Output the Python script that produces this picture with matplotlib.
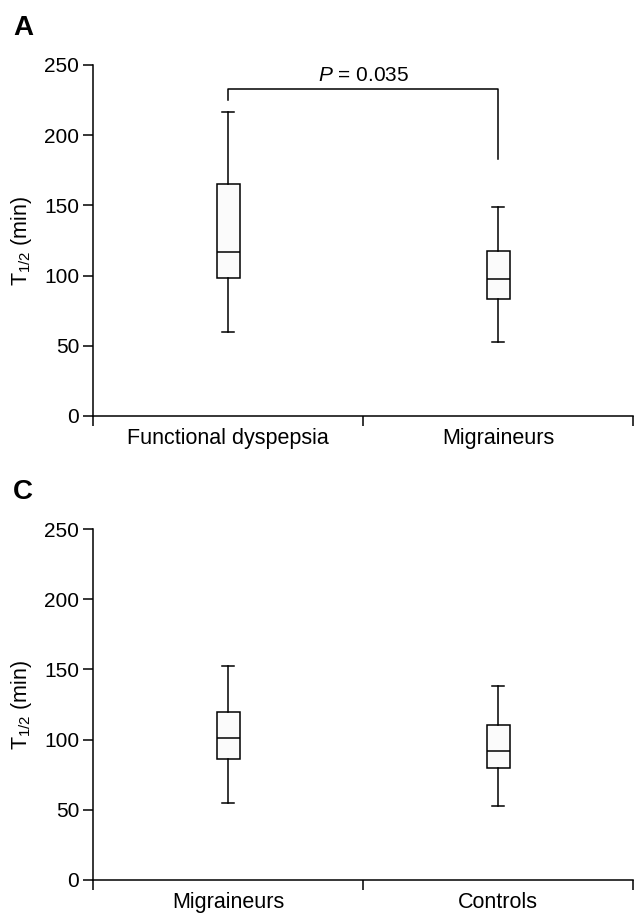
import matplotlib
matplotlib.use("Agg")
import matplotlib.pyplot as plt

plt.rcParams['font.family'] = ['Liberation Sans', 'DejaVu Sans']
plt.rcParams['mathtext.fontset'] = 'custom'
plt.rcParams['mathtext.rm'] = 'Liberation Sans'
plt.rcParams['mathtext.it'] = 'Liberation Sans:italic'

# panel A: functional dyspepsia vs migraineurs
groups_a = ["Functional dyspepsia", "Migraineurs"]
low_a = [59.6, 52.7]
q1_a = [98.5, 83.6]
med_a = [116.6, 97.8]
q3_a = [165.0, 117.5]
high_a = [216.5, 149.1]

# panel C: migraineurs vs controls
groups_c = ["Migraineurs", "Controls"]
low_c = [55.1, 52.9]
q1_c = [86.4, 79.8]
med_c = [101.4, 91.9]
q3_c = [119.4, 110.4]
high_c = [152.6, 138.4]

p_text = r"$\mathit{P}$ = 0.035"
bracket_y = 233
bracket_left_end = 225
bracket_right_end = 183

fig = plt.figure(figsize=(6.35, 9.14), dpi=100)
ax_a = fig.add_axes([0.1465, 0.5449, 0.8505, 0.384])
ax_c = fig.add_axes([0.1465, 0.0372, 0.8505, 0.384])


def draw_panel(ax, groups, low, q1, med, q3, high):
    stats = []
    for i in range(len(groups)):
        stats.append({"whislo": low[i], "q1": q1[i], "med": med[i],
                      "q3": q3[i], "whishi": high[i], "fliers": []})
    pos = [i + 0.5 for i in range(len(groups))]
    ax.bxp(stats, positions=pos, widths=0.085, patch_artist=True,
           showfliers=False,
           boxprops=dict(facecolor="#fbfbfb", edgecolor="black", linewidth=1.1),
           medianprops=dict(color="black", linewidth=1.1),
           whiskerprops=dict(color="black", linewidth=1.1),
           capprops=dict(color="black", linewidth=1.1),
           capwidths=0.045)
    ax.set_xlim(0, len(groups))
    ax.set_ylim(0, 250)
    ax.set_yticks([0, 50, 100, 150, 200, 250])
    ax.set_xticks(range(len(groups) + 1))
    ax.set_xticklabels([])
    ax.set_xticks(pos, minor=True)
    ax.set_xticklabels(groups, minor=True, fontsize=15.5)
    ax.tick_params(axis="x", which="major", length=7, width=1.1, direction="out")
    ax.tick_params(axis="x", which="minor", length=0, pad=9)
    ax.tick_params(axis="y", length=7, width=1.1, labelsize=15, pad=3)
    for s in ["top", "right"]:
        ax.spines[s].set_visible(False)
    for s in ["left", "bottom"]:
        ax.spines[s].set_linewidth(1.1)
    ax.set_ylabel(r"T$_{\mathregular{1/2}}$ (min)", fontsize=15.5)
    ax.yaxis.set_label_coords(-0.11, 0.5)


draw_panel(ax_a, groups_a, low_a, q1_a, med_a, q3_a, high_a)
draw_panel(ax_c, groups_c, low_c, q1_c, med_c, q3_c, high_c)

# significance bracket in panel A
ax_a.plot([0.5, 0.5, 1.5, 1.5],
          [bracket_left_end, bracket_y, bracket_y, bracket_right_end],
          color="black", lw=1.1, clip_on=False)
ax_a.text(1.0, bracket_y + 2.5, p_text, ha="center", va="bottom", fontsize=15)

fig.text(0.021, 0.969, "A", fontsize=20, fontweight="bold", va="center")
fig.text(0.021, 0.462, "C", fontsize=20, fontweight="bold", va="center")

fig.savefig("out.png", dpi=100)
